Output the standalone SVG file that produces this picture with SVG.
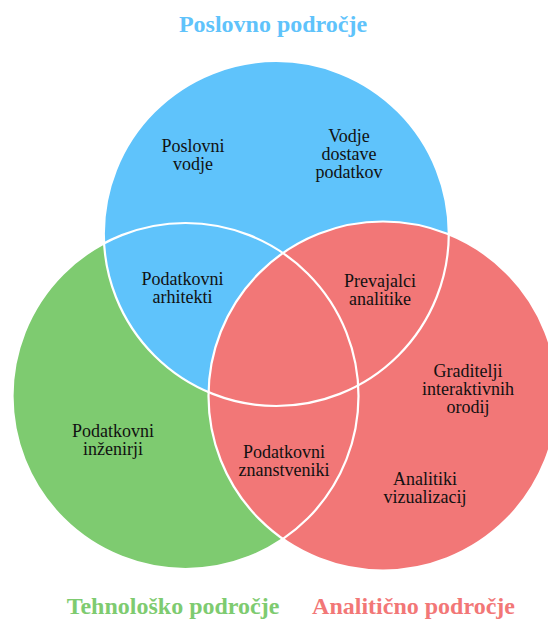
<svg xmlns="http://www.w3.org/2000/svg" width="548" height="619" viewBox="0 0 548 619">
<style>
.lbl{font-family:"Liberation Serif","Times New Roman",serif;font-size:18px;fill:#111;text-anchor:middle}
.ttl{font-family:"Liberation Serif","Times New Roman",serif;font-size:24px;font-weight:bold;text-anchor:middle}
.ol{fill:none;stroke:#fff;stroke-width:2.2}
</style>
<rect width="548" height="619" fill="#fff"/>
<g id="set-tech"><circle cx="185.5" cy="396" r="173" fill="#7ecb70"/></g>
<g id="set-business"><circle cx="276.3" cy="233.5" r="172.5" fill="#5fc3fb"/></g>
<g id="set-analytics"><circle cx="383" cy="396" r="174.5" fill="#f27777"/></g>
<g id="outlines">
<circle class="ol" cx="185.5" cy="396" r="173"/>
<circle class="ol" cx="276.3" cy="233.5" r="172.5"/>
<circle class="ol" cx="383" cy="396" r="174.5"/>
</g>
<g id="title-business"><text class="ttl" x="273" y="32" fill="#5fc3fb">Poslovno področje</text></g>
<g id="title-tech"><text class="ttl" x="173" y="614" fill="#7ecb70">Tehnološko področje</text></g>
<g id="title-analytics"><text class="ttl" x="413.5" y="614" fill="#f27777">Analitično področje</text></g>
<g id="poslovni-vodje"><text class="lbl" x="193" y="152">Poslovni</text><text class="lbl" x="193" y="170">vodje</text></g>
<g id="vodje-dostave"><text class="lbl" x="349" y="142">Vodje</text><text class="lbl" x="349" y="160">dostave</text><text class="lbl" x="349" y="178">podatkov</text></g>
<g id="podatkovni-arhitekti"><text class="lbl" x="182.5" y="285">Podatkovni</text><text class="lbl" x="182.5" y="303">arhitekti</text></g>
<g id="prevajalci-analitike"><text class="lbl" x="380" y="287">Prevajalci</text><text class="lbl" x="380" y="305">analitike</text></g>
<g id="graditelji"><text class="lbl" x="468" y="377">Graditelji</text><text class="lbl" x="468" y="395">interaktivnih</text><text class="lbl" x="468" y="413">orodij</text></g>
<g id="podatkovni-inzenirji"><text class="lbl" x="113" y="437">Podatkovni</text><text class="lbl" x="113" y="455">inženirji</text></g>
<g id="podatkovni-znanstveniki"><text class="lbl" x="284" y="458">Podatkovni</text><text class="lbl" x="284" y="476">znanstveniki</text></g>
<g id="analitiki-vizualizacij"><text class="lbl" x="425" y="485">Analitiki</text><text class="lbl" x="425" y="503">vizualizacij</text></g>
</svg>
